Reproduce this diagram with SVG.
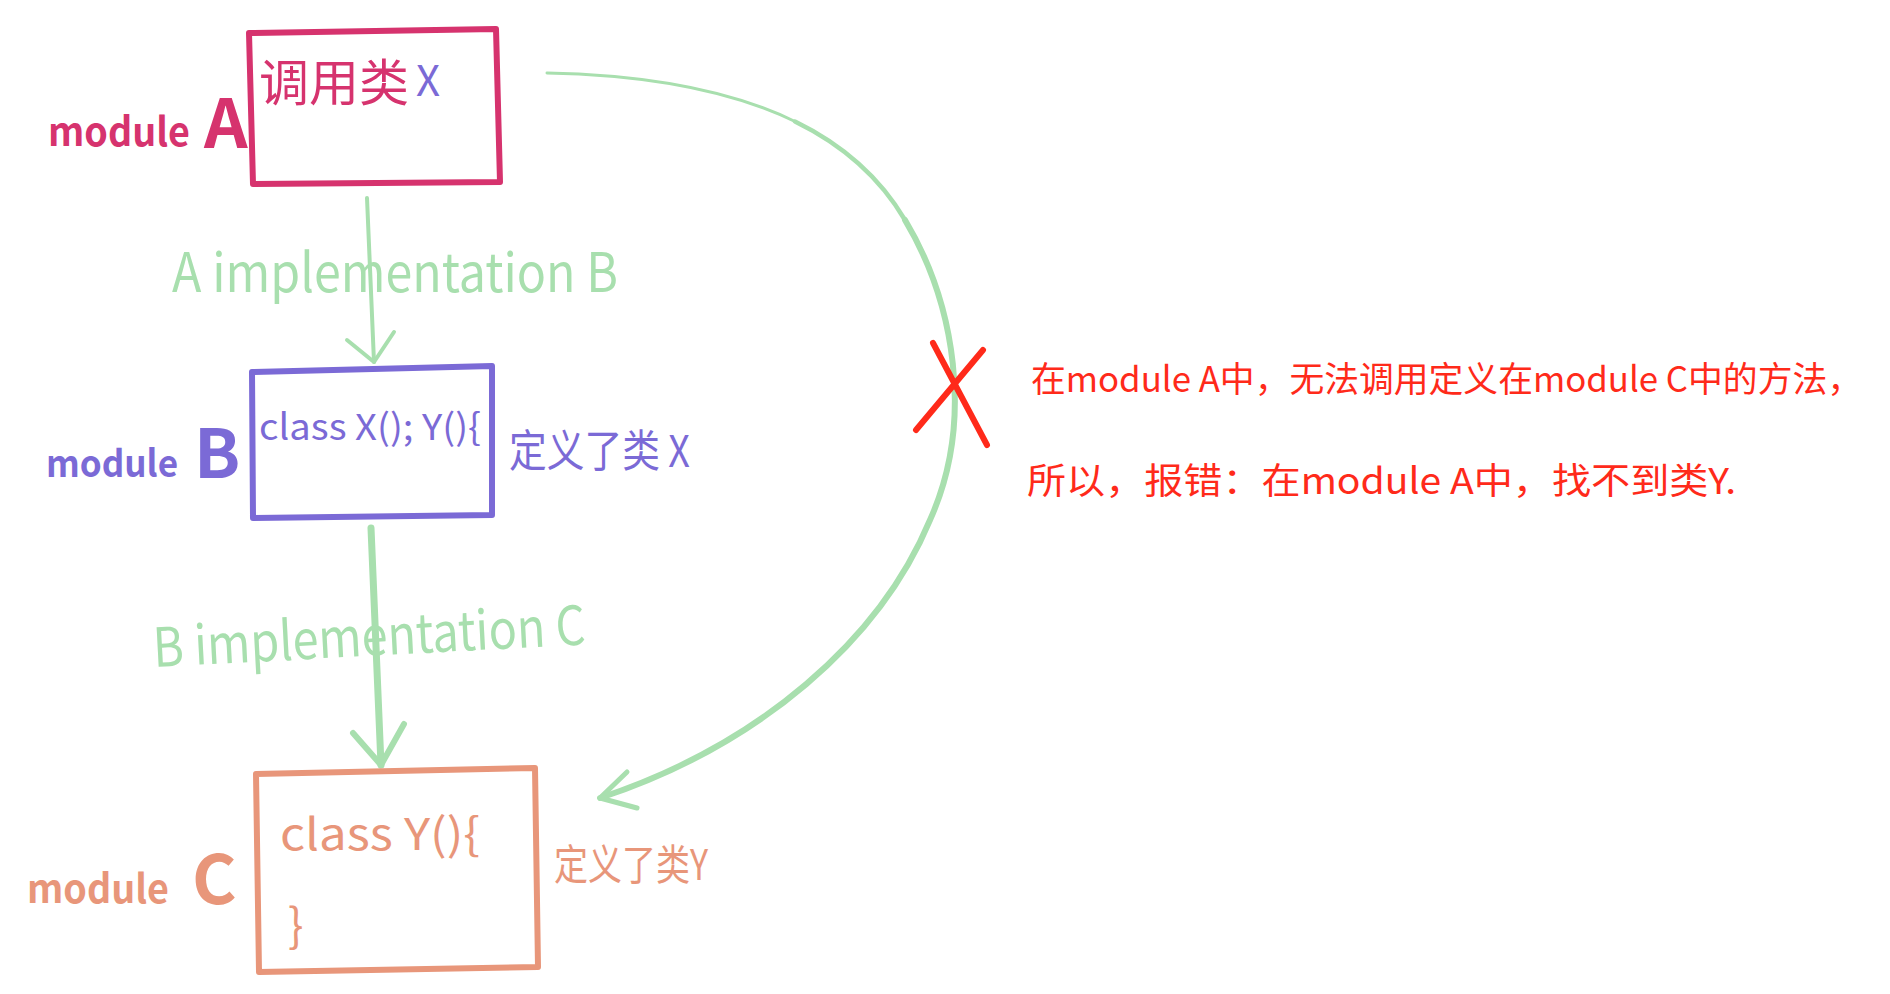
<svg xmlns="http://www.w3.org/2000/svg" width="1890" height="994" viewBox="0 0 1890 994">
<style>
.t{font-family:"Noto Sans CJK SC","Liberation Sans",sans-serif;}
.box{fill:none;stroke-width:6;stroke-linejoin:round;stroke-linecap:round;}
.mag{fill:#d6336e;} .pur{fill:#7b6ad6;} .grn{fill:#a8dfae;} .org{fill:#e8967a;} .red{fill:#ff2a1a;}
.conn{fill:none;stroke:#a8dfae;stroke-linecap:round;stroke-linejoin:round;}
.mod{font-weight:600;}
</style>
<rect width="1890" height="994" fill="#ffffff"/>
<g id="connectors">
  <path class="conn" stroke-width="4" d="M367,198 L374,362"/>
  <path class="conn" stroke-width="4" d="M347,340 L374,362 L394,332"/>
  <path class="conn" stroke-width="7" d="M371,528 L381,765"/>
  <path class="conn" stroke-width="6" d="M353,733 L381,765 L404,724"/>
  <path class="conn" stroke-width="3" d="M547,73 C638.8,74.8 725.9,87.8 795,121.5"/>
  <path class="conn" stroke-width="4.5" d="M795,121.5 C841,143.9 879,176 905,220"/>
  <path class="conn" stroke-width="6" d="M905,220 C954,302 975,420 930,520 C880,640 760,745 600,798"/>
  <path class="conn" stroke-width="5" d="M627,772 L600,798 L637,808"/>
</g>
<g id="cross">
  <path d="M933,343 L987,445" stroke="#ff2a1a" stroke-width="6" stroke-linecap="round"/>
  <path d="M983,350 L916,430" stroke="#ff2a1a" stroke-width="6" stroke-linecap="round"/>
</g>
<g id="moduleA">
  <polygon class="box" stroke="#d6336e" points="249,33 496,29 500,182 253,184"/>
  <text class="t mag" x="259" y="101" font-size="50" textLength="150" lengthAdjust="spacingAndGlyphs">调用类</text>
  <text class="t pur" x="416" y="96" font-size="42">X</text>
  <text class="t mag mod" x="48" y="146" font-size="40" textLength="142" lengthAdjust="spacingAndGlyphs">module</text>
  <text class="t mag" x="204" y="148" font-size="68" font-weight="bold">A</text>
</g>
<g id="moduleB">
  <polygon class="box" stroke="#7b6ad6" points="252,372 492,366 492,515 253,518"/>
  <text class="t pur" x="259" y="440" font-size="36" textLength="222" lengthAdjust="spacingAndGlyphs">class X(); Y(){</text>
  <text class="t pur" x="509" y="467" font-size="44" textLength="181" lengthAdjust="spacingAndGlyphs">定义了类 X</text>
  <text class="t pur mod" x="46" y="477" font-size="37" textLength="132" lengthAdjust="spacingAndGlyphs">module</text>
  <text class="t pur" x="194" y="478" font-size="68" font-weight="bold">B</text>
</g>
<g id="moduleC">
  <polygon class="box" stroke="#e8967a" points="256,774 535,768 538,967 259,972"/>
  <text class="t org" x="280" y="850" font-size="44" textLength="200" lengthAdjust="spacingAndGlyphs">class Y(){</text>
  <text class="t org" x="288" y="942" font-size="46">}</text>
  <text class="t org" x="554" y="880" font-size="42" textLength="154" lengthAdjust="spacingAndGlyphs">定义了类Y</text>
  <text class="t org mod" x="27" y="903" font-size="40" textLength="142" lengthAdjust="spacingAndGlyphs">module</text>
  <text class="t org" x="192" y="904" font-size="68" font-weight="bold">C</text>
</g>
<g id="labels">
  <text class="t grn" x="172" y="292" font-size="54" textLength="446" lengthAdjust="spacingAndGlyphs">A implementation B</text>
  <text class="t grn" x="154" y="667" font-size="54" textLength="433" lengthAdjust="spacingAndGlyphs" transform="rotate(-3 154 667)">B implementation C</text>
</g>
<g id="note">
  <text class="t red" x="1031" y="392" font-size="35" textLength="831" lengthAdjust="spacingAndGlyphs">在module A中，无法调用定义在module C中的方法，</text>
  <text class="t red" x="1027" y="494" font-size="36" textLength="709" lengthAdjust="spacingAndGlyphs">所以，报错：在module A中，找不到类Y.</text>
</g>
</svg>
